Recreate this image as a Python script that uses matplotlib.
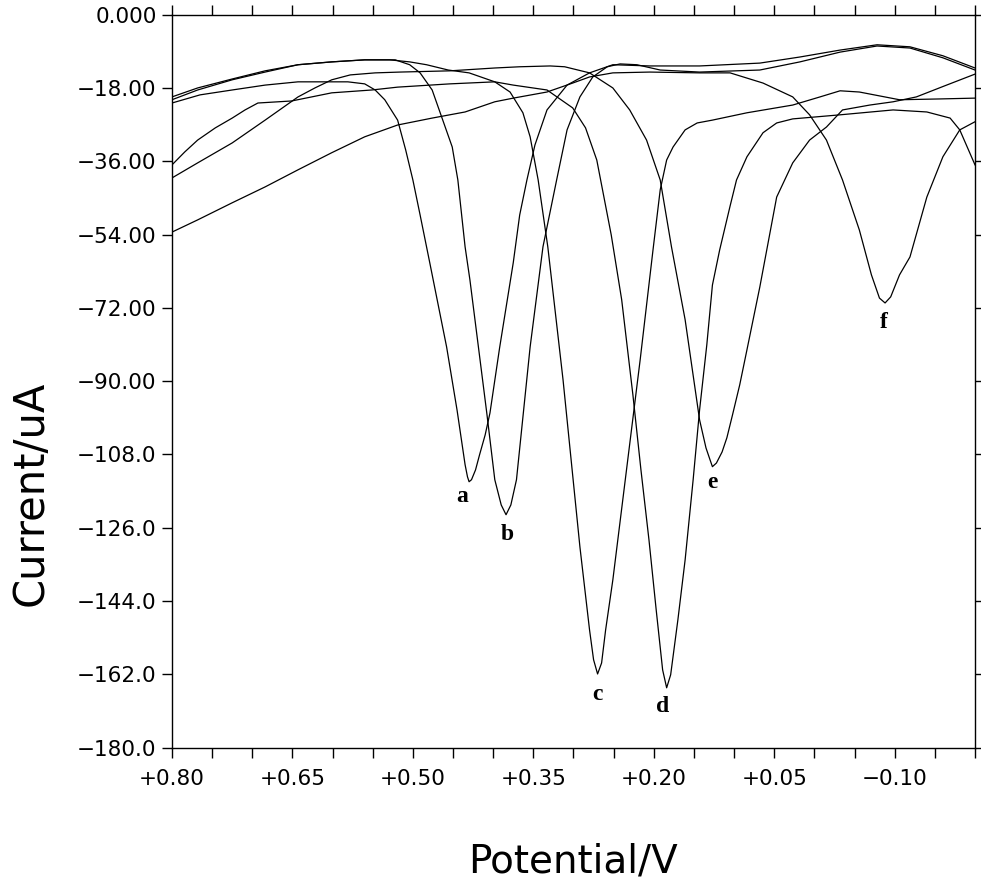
import matplotlib
matplotlib.use("Agg")
import matplotlib.pyplot as plt
from matplotlib.ticker import MultipleLocator

# curva a
a_x = [0.800, 0.765, 0.725, 0.684, 0.643, 0.581, 0.560, 0.547, 0.535, 0.519, 0.509, 0.500,
       0.491, 0.479, 0.458, 0.445, 0.435, 0.432, 0.430, 0.427, 0.422, 0.417, 0.410, 0.404,
       0.392, 0.375, 0.367, 0.358, 0.348, 0.333, 0.308, 0.280, 0.251, 0.205, 0.143, 0.068,
       0.018, -0.032, -0.078, -0.119, -0.160, -0.200]
a_y = [-21.7, -19.7, -18.5, -17.3, -16.5, -16.5, -17.0, -18.5, -20.9, -25.9, -33.2, -40.6,
       -49.2, -60.9, -81.6, -97.1, -110.5, -113.5, -114.7, -114.2, -111.8, -108.1, -103.2, -97.8,
       -81.8, -60.9, -49.2, -40.6, -32.0, -23.4, -17.3, -14.3, -12.3, -12.6, -12.6, -11.9,
       -10.4, -8.7, -7.4, -7.9, -10.1, -13.1]

# curva b
b_x = [0.800, 0.768, 0.725, 0.684, 0.643, 0.601, 0.560, 0.522, 0.504, 0.491, 0.476, 0.466,
       0.451, 0.444, 0.435, 0.429, 0.408, 0.398, 0.390, 0.384, 0.378, 0.371, 0.354, 0.338,
       0.321, 0.308, 0.292, 0.276, 0.258, 0.242, 0.221, 0.192, 0.143, 0.068, 0.018, -0.032,
       -0.078, -0.119, -0.160, -0.200]
b_y = [-20.2, -18.0, -15.8, -13.8, -12.3, -11.6, -11.1, -11.1, -12.3, -14.3, -18.5, -24.1,
       -32.5, -40.6, -57.0, -65.1, -97.8, -114.2, -120.4, -122.8, -120.4, -114.2, -81.6, -57.0,
       -40.6, -28.3, -20.2, -15.3, -12.8, -12.1, -12.3, -13.6, -14.1, -13.6, -11.6, -9.2,
       -7.7, -8.2, -10.6, -13.6]

# curva c
c_x = [0.800, 0.768, 0.725, 0.684, 0.643, 0.601, 0.560, 0.529, 0.504, 0.483, 0.456, 0.430,
       0.398, 0.379, 0.363, 0.354, 0.344, 0.332, 0.313, 0.292, 0.280, 0.275, 0.270, 0.265,
       0.260, 0.251, 0.234, 0.217, 0.201, 0.192, 0.184, 0.176, 0.161, 0.146, 0.127, 0.084,
       0.027, -0.007, -0.032, -0.056, -0.106, -0.156, -0.200]
c_y = [-20.9, -18.5, -16.0, -14.1, -12.3, -11.6, -11.1, -11.1, -11.6, -12.3, -13.6, -14.3,
       -16.5, -19.0, -24.1, -30.0, -40.6, -57.0, -89.7, -130.7, -151.1, -158.4, -161.9, -159.2,
       -151.1, -138.8, -111.8, -84.8, -57.8, -43.0, -35.7, -32.5, -28.3, -26.6, -25.9, -24.1,
       -22.2, -20.2, -18.7, -19.0, -20.9, -20.7, -20.5]

# curva d
d_x = [0.800, 0.784, 0.768, 0.746, 0.725, 0.709, 0.693, 0.651, 0.601, 0.551, 0.519, 0.454,
       0.398, 0.375, 0.333, 0.301, 0.285, 0.271, 0.253, 0.240, 0.226, 0.216, 0.206, 0.197,
       0.189, 0.184, 0.179, 0.170, 0.161, 0.151, 0.143, 0.134, 0.127, 0.118, 0.105, 0.097,
       0.084, 0.064, 0.047, 0.027, -0.032, -0.098, -0.140, -0.169, -0.181, -0.200]
d_y = [-36.9, -33.7, -30.8, -27.8, -25.4, -23.4, -21.7, -21.2, -19.2, -18.5, -17.8, -17.0,
       -16.5, -17.3, -18.5, -22.9, -27.8, -35.7, -54.1, -70.0, -93.4, -111.8, -129.0, -146.2,
       -160.9, -165.3, -162.1, -148.6, -133.9, -114.2, -97.1, -81.1, -66.4, -57.8, -47.0, -40.6,
       -34.9, -29.0, -26.6, -25.6, -24.6, -23.4, -23.9, -25.4, -28.3, -36.9]

# curva e
e_x = [0.800, 0.768, 0.725, 0.684, 0.643, 0.622, 0.601, 0.578, 0.547, 0.516, 0.454, 0.398,
       0.367, 0.329, 0.311, 0.280, 0.251, 0.230, 0.209, 0.192, 0.178, 0.161, 0.143, 0.135,
       0.130, 0.127, 0.122, 0.115, 0.109, 0.102, 0.093, 0.084, 0.068, 0.047, 0.027, 0.006,
       -0.015, -0.035, -0.069, -0.098, -0.127, -0.162, -0.200]
e_y = [-40.1, -36.4, -31.5, -25.9, -20.2, -18.0, -16.0, -14.8, -14.3, -14.1, -13.8, -13.1,
       -12.8, -12.6, -12.8, -14.3, -18.0, -23.4, -30.8, -40.6, -57.0, -74.9, -99.5, -106.4,
       -109.3, -111.0, -110.1, -107.4, -103.9, -98.3, -90.9, -82.3, -66.9, -44.8, -36.4, -30.8,
       -27.6, -23.4, -22.2, -21.4, -20.2, -17.5, -14.6]

# curva f
f_x = [0.800, 0.768, 0.725, 0.684, 0.643, 0.601, 0.560, 0.519, 0.476, 0.435, 0.398, 0.375,
       0.333, 0.301, 0.280, 0.251, 0.205, 0.143, 0.105, 0.064, 0.027, 0.006, -0.015, -0.035,
       -0.056, -0.071, -0.081, -0.088, -0.095, -0.106, -0.119, -0.140, -0.160, -0.181, -0.200]
f_y = [-53.4, -50.4, -46.2, -42.3, -38.1, -33.9, -30.0, -27.1, -25.4, -23.9, -21.4, -20.5,
       -19.0, -16.8, -15.3, -14.3, -14.1, -14.3, -14.3, -16.8, -20.2, -24.6, -30.8, -40.6,
       -52.9, -63.9, -69.6, -70.8, -69.3, -63.9, -59.5, -44.8, -34.9, -28.3, -26.3]

# letras das curvas e suas posições
letras = ["a", "b", "c", "d", "e", "f"]
letras_x = [0.438, 0.383, 0.270, 0.189, 0.127, -0.086]
letras_y = [-118.4, -127.7, -167.0, -170.0, -115.0, -75.5]

# ticks
x_ticks = [0.80, 0.65, 0.50, 0.35, 0.20, 0.05, -0.10]
x_labels = ["+0.80", "+0.65", "+0.50", "+0.35", "+0.20", "+0.05", "\u22120.10"]
y_ticks = [0, -18, -36, -54, -72, -90, -108, -126, -144, -162, -180]
y_labels = ["0.000", "\u221218.00", "\u221236.00", "\u221254.00", "\u221272.00", "\u221290.00",
            "\u2212108.0", "\u2212126.0", "\u2212144.0", "\u2212162.0", "\u2212180.0"]

plt.rcParams["font.family"] = "DejaVu Sans"

fig = plt.figure(figsize=(9.81, 8.82), dpi=100)
ax = fig.add_axes([0.1753, 0.1523, 0.8186, 0.8311])

for xs, ys in [(a_x, a_y), (b_x, b_y), (c_x, c_y), (d_x, d_y), (e_x, e_y), (f_x, f_y)]:
    ax.plot(xs, ys, color="black", lw=0.9)

for t, x, y in zip(letras, letras_x, letras_y):
    ax.text(x, y, t, family="Liberation Serif", fontweight="bold", fontsize=17,
            ha="center", va="center")

ax.set_xlim(0.80, -0.20)
ax.set_ylim(-180, 0)
ax.set_xticks(x_ticks)
ax.set_xticklabels(x_labels)
ax.xaxis.set_minor_locator(MultipleLocator(0.05))
ax.set_yticks(y_ticks)
ax.set_yticklabels(y_labels)

ax.tick_params(which="both", direction="out", length=7, width=1, top=True, right=True,
               labelsize=15.5, colors="black")
ax.tick_params(axis="x", pad=8)
ax.tick_params(axis="y", pad=4)
for s in ax.spines.values():
    s.set_linewidth(1.0)

fig.text(0.031, 0.4405, "Current/uA", rotation=90, fontsize=30, ha="center", va="center")
fig.text(0.584, 0.002, "Potential/V", fontsize=28, ha="center", va="bottom")

fig.savefig("out.png", dpi=100)
